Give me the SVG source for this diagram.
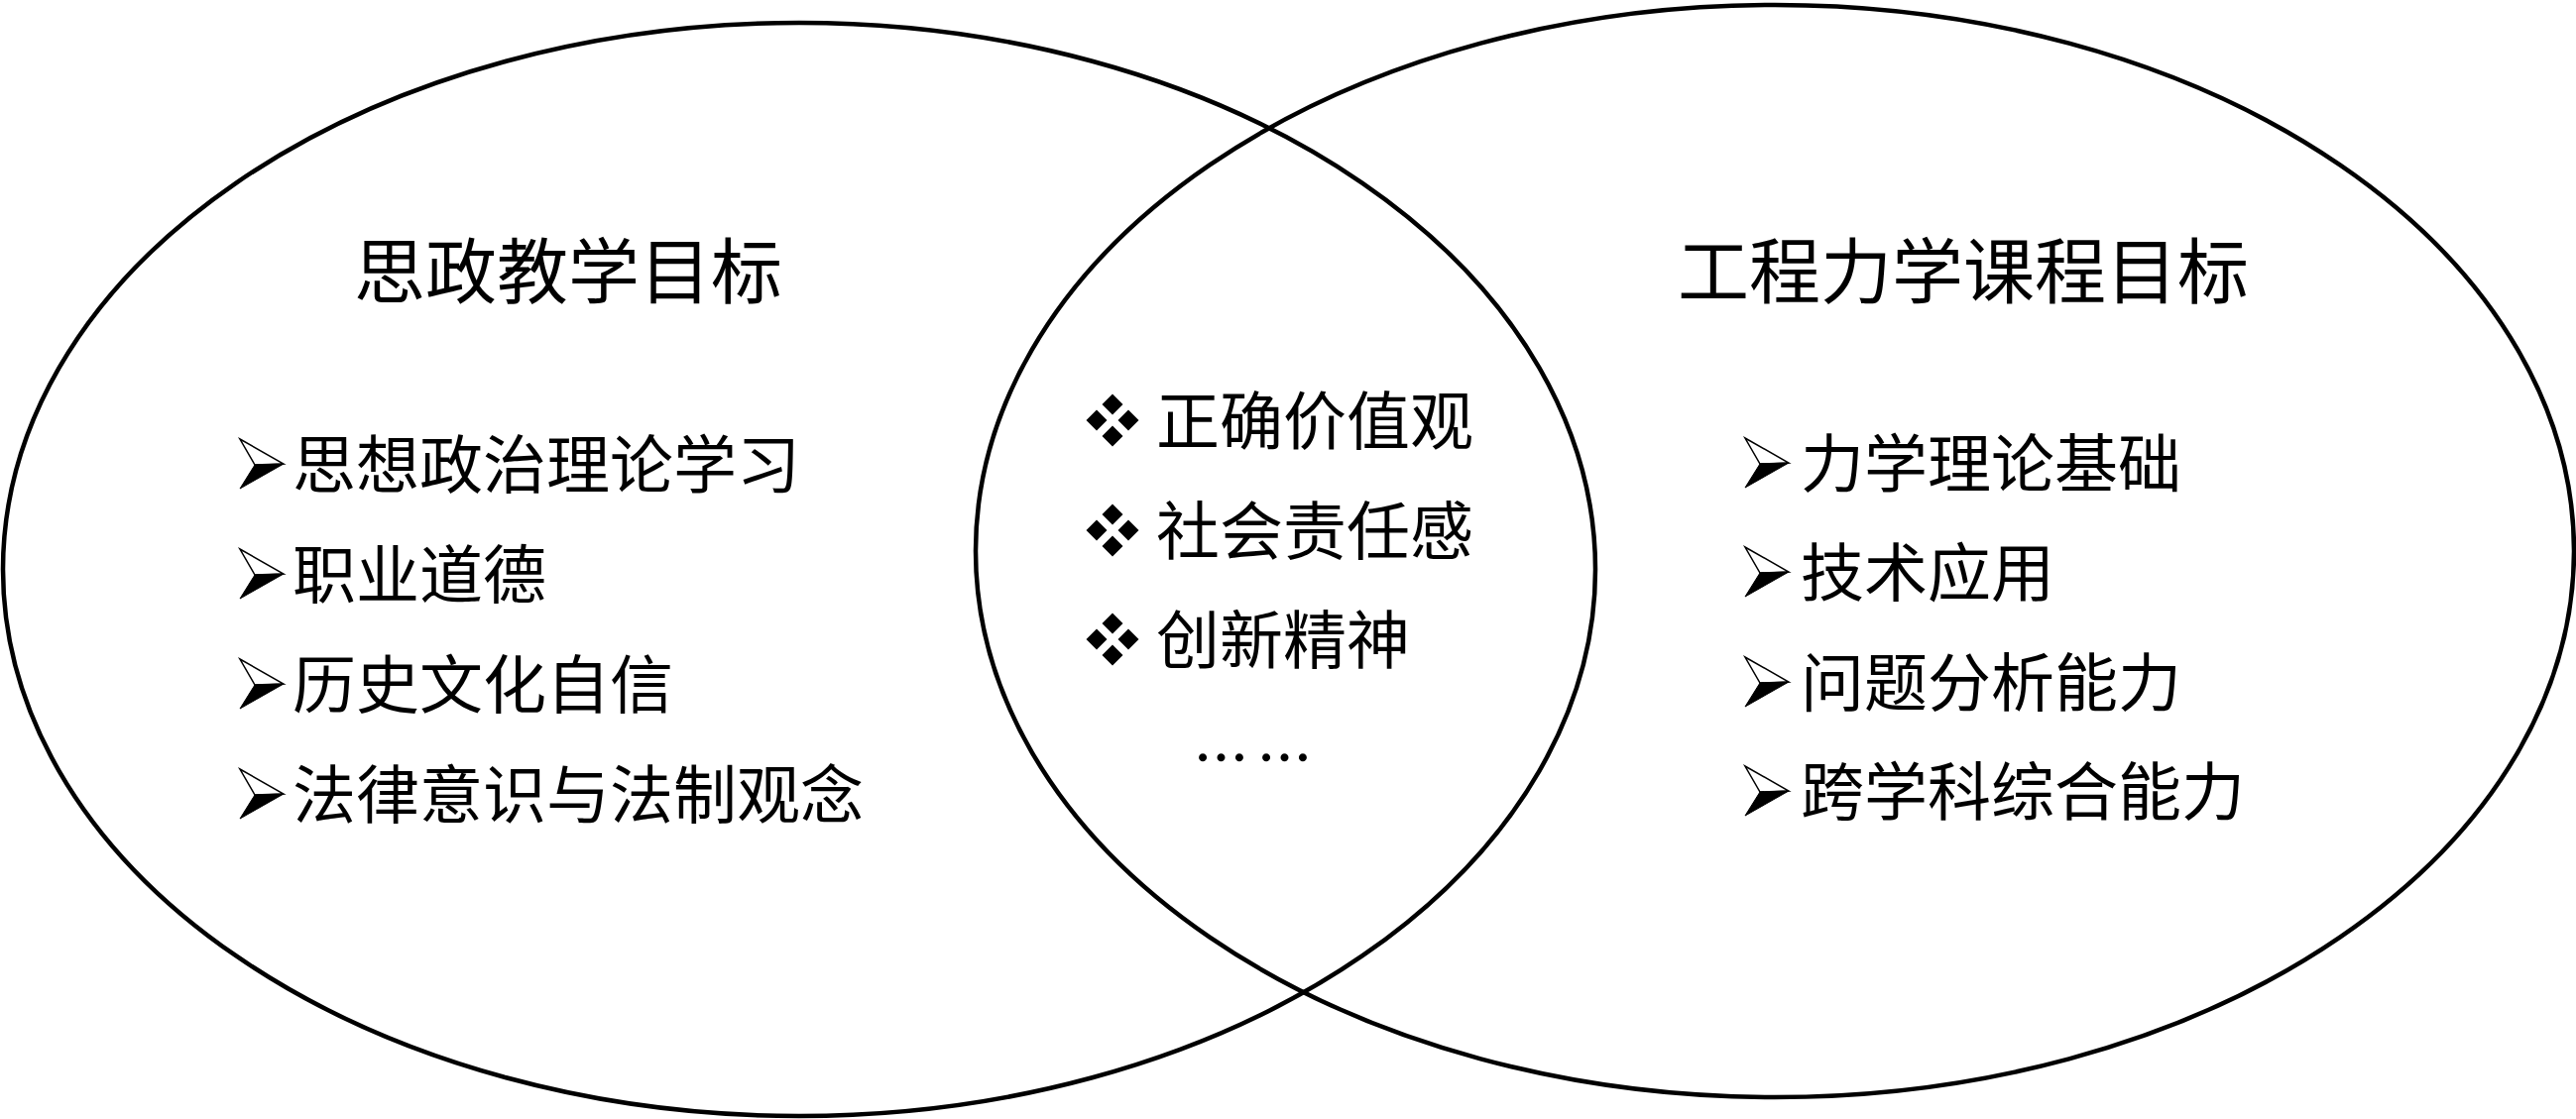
<svg xmlns="http://www.w3.org/2000/svg" width="2598" height="1129" viewBox="0 0 2598 1129">
<style>
.ell{fill:none;stroke:#000;stroke-width:4.5}
.title{font-family:"Noto Sans CJK SC","Noto Sans CJK TC",sans-serif;font-size:72px;fill:#000}
.item{font-family:"Noto Sans CJK SC","Noto Sans CJK TC",sans-serif;font-size:64px;fill:#000}
.dots{font-family:"Liberation Serif",serif;font-size:55px;letter-spacing:9px;fill:#000;stroke:#000;stroke-width:1.5}
</style>
<defs>
<g id="arrow">
<polygon points="0,-25 44,0 15,1" fill="#fff" stroke="#000" stroke-width="1.5" stroke-linejoin="miter"/>
<polygon points="15,1 44,0 0,25" fill="#000" stroke="#000" stroke-width="1"/>
</g>
<g id="diam">
<polygon points="0,-26.5 10.5,-16 0,-5.5 -10.5,-16"/>
<polygon points="-16,-10.5 -5.5,0 -16,10.5 -26.5,0"/>
<polygon points="16,-10.5 26.5,0 16,10.5 5.5,0"/>
<polygon points="0,5.5 10.5,16 0,26.5 -10.5,16"/>
</g>
</defs>
<rect width="2598" height="1129" fill="#fff"/>
<g id="connectors">
<ellipse class="ell" cx="806" cy="574.5" rx="803" ry="551.5"/>
<ellipse class="ell" cx="1790" cy="556" rx="806" ry="551"/>
</g>
<g id="left-node">
<text class="title" x="357" y="300">思政教学目标</text>
<use href="#arrow" x="242" y="468"/>
<text class="item" x="295" y="492">思想政治理论学习</text>
<use href="#arrow" x="242" y="579"/>
<text class="item" x="295" y="603">职业道德</text>
<use href="#arrow" x="242" y="690"/>
<text class="item" x="295" y="714">历史文化自信</text>
<use href="#arrow" x="242" y="801"/>
<text class="item" x="295" y="825">法律意识与法制观念</text>
</g>
<g id="center-node">
<use href="#diam" x="1122" y="424"/>
<text class="item" x="1166" y="448">正确价值观</text>
<use href="#diam" x="1122" y="535"/>
<text class="item" x="1166" y="559">社会责任感</text>
<use href="#diam" x="1122" y="645"/>
<text class="item" x="1166" y="669">创新精神</text>
<text class="dots" x="1204" y="767">……</text>
</g>
<g id="right-node">
<text class="title" x="1692" y="300">工程力学课程目标</text>
<use href="#arrow" x="1760" y="467"/>
<text class="item" x="1816" y="491">力学理论基础</text>
<use href="#arrow" x="1760" y="577"/>
<text class="item" x="1816" y="601">技术应用</text>
<use href="#arrow" x="1760" y="688"/>
<text class="item" x="1816" y="712">问题分析能力</text>
<use href="#arrow" x="1760" y="798"/>
<text class="item" x="1816" y="822">跨学科综合能力</text>
</g>
</svg>
